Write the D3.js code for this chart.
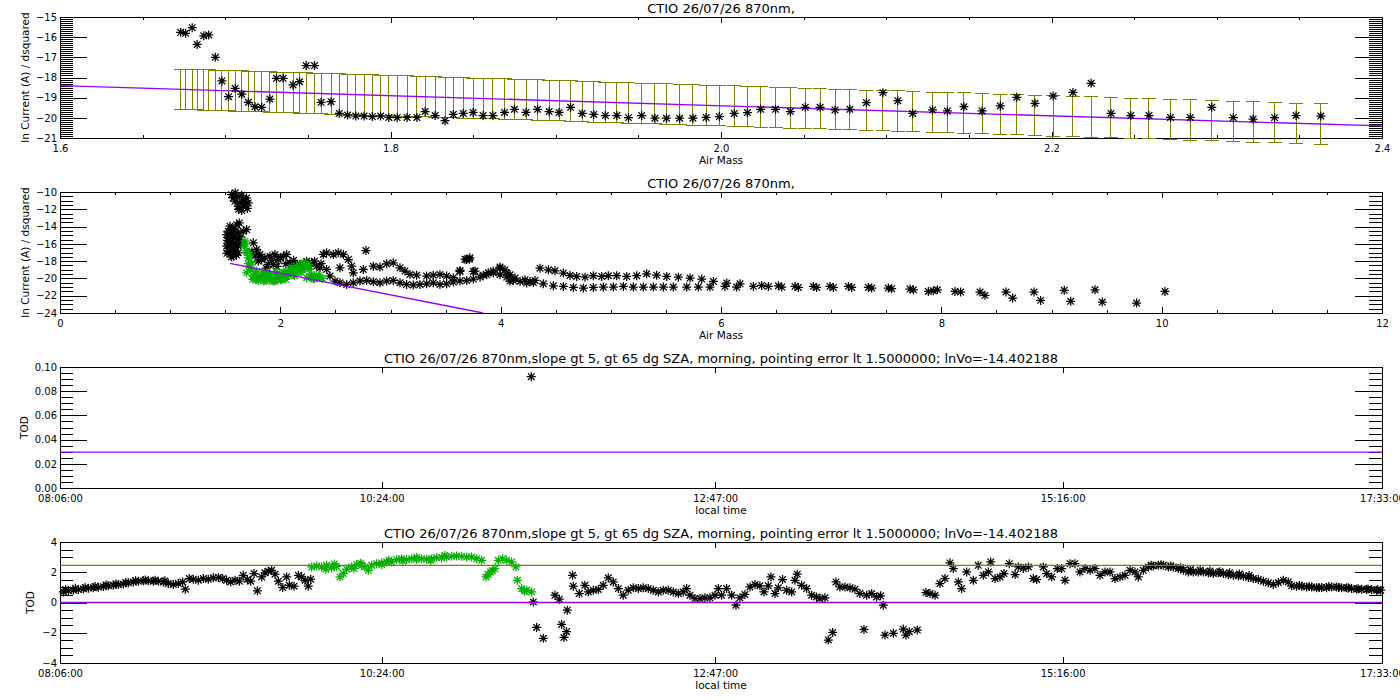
<!DOCTYPE html>
<html>
<head>
<meta charset="utf-8">
<script src="https://cdn.jsdelivr.net/npm/d3@7"></script>
<style>
body { margin: 0; background: #fff; }
svg text { font-family: "DejaVu Sans", sans-serif; fill: #000; }
.title { font-size: 13px; }
.axis text { font-size: 10px; }
.axtitle { font-size: 10.5px; }
</style>
</head>
<body>
<svg id="chart"></svg>
<script>
// ---- panel 1: ln current vs air mass (zoomed), with fit and error bars
let p1Title = "CTIO 26/07/26 870nm,"
let p1Airmass = [1.673,1.676,1.680,1.683,1.687,1.690,1.694,1.698,1.702,1.706,1.710,1.714,1.718,1.722,1.727,1.731,1.735,1.741,1.745,1.749,1.754,1.758,1.764,1.769,1.774,1.779,1.784,1.789,1.794,1.799,1.804,1.810,1.816,1.821,1.827,1.833,1.838,1.844,
    1.850,1.856,1.862,1.869,1.875,1.882,1.889,1.896,1.902,1.909,1.916,1.923,1.930,1.937,1.944,1.952,1.960,1.967,1.975,1.983,1.991,1.999,2.008,2.016,2.024,2.033,2.042,2.051,2.060,2.069,2.078,2.088,2.098,2.107,2.116,
    2.128,2.137,2.147,2.158,2.169,2.179,2.190,2.201,2.213,2.224,2.236,2.248,2.259,2.272,2.284,2.297,2.310,2.322,2.335,2.348,2.363]
let p1LnCurrent = [-15.76,-15.81,-15.53,-16.36,-15.93,-15.89,-17.00,-18.17,-18.95,-18.54,-18.83,-19.23,-19.45,-19.48,-19.07,-18.04,-18.04,-18.37,-18.21,-17.41,-17.41,-19.23,-19.20,-19.78,-19.86,-19.91,-19.91,-19.94,-19.91,-19.98,-19.99,-19.98,-19.98,-19.69,-19.89,-20.14,-19.83,-19.78,
    -19.73,-19.89,-19.89,-19.73,-19.58,-19.73,-19.58,-19.69,-19.73,-19.48,-19.78,-19.83,-19.89,-19.89,-19.99,-19.89,-20.02,-20.02,-20.02,-20.02,-19.98,-19.94,-19.78,-19.74,-19.58,-19.58,-19.69,-19.48,-19.48,-19.61,-19.58,-19.25,-18.75,-19.15,-19.78,
    -19.61,-19.66,-19.45,-19.66,-19.41,-18.98,-19.28,-18.92,-18.74,-18.29,-19.78,-19.89,-19.89,-19.98,-19.98,-19.48,-19.99,-20.06,-19.99,-19.89,-19.91]
let p1FitAirmass = [1.6, 2.4]
let p1FitLn = [-18.40, -20.40]
let p1ErrHalf = 1.0
let p1XTicks = [1.6, 1.8, 2.0, 2.2, 2.4]
let p1YTicks = [-21, -20, -19, -18, -17, -16, -15]

// ---- panel 2: ln current vs air mass, whole day
let p2Title = "CTIO 26/07/26 870nm,"
let p2BlackAirmass = [1.558,1.603,1.649,1.694,1.588,1.634,1.679,1.618,1.664,1.649,1.709,1.573,1.627,1.590,1.660,1.700,1.620,
    1.528,1.528,1.528,1.528,1.573,1.573,1.573,1.573,1.573,1.618,1.618,1.618,1.618,1.543,1.664,1.513,1.513,1.550,1.550,1.550,1.595,1.595,1.595,1.595,
    1.535,1.535,1.535,1.560,1.560,1.600,1.520,1.640,1.640,1.515,1.555,1.605,
    1.694,1.755,1.785,1.815,1.830,1.860,1.891,1.906,1.936,1.951,1.982,2.027,2.057,2.087,2.133,2.178,2.239,2.284,2.329,2.360,
    1.800,1.870,1.920,1.970,2.000,2.050,2.120,2.190,2.260,2.310,2.370,1.740,1.770,
    2.390,2.420,2.450,2.496,2.541,2.602,2.662,2.723,2.783,2.844,2.904,2.965,3.025,3.086,3.146,3.207,3.267,3.328,3.388,3.449,3.509,3.570,3.630,
    2.420,2.481,2.526,2.572,2.617,2.647,2.662,2.777,
    2.541,2.753,2.844,2.904,2.965,3.025,3.086,3.131,3.177,3.237,3.328,3.388,3.449,3.509,3.570,3.630,3.691,3.721,3.767,3.842,3.888,3.933,3.994,4.054,4.084,
    3.692,3.752,3.813,3.873,3.934,3.994,4.055,4.115,4.176,4.236,4.297,4.387,4.478,4.569,4.660,4.751,4.841,4.932,5.023,5.114,5.204,5.295,5.386,5.477,5.567,5.689,5.794,5.900,6.036,6.142,6.294,6.430,6.551,6.702,6.868,7.020,7.186,7.368,7.549,7.746,7.882,
    3.676,3.716,3.631,3.752,3.994,4.039,4.085,4.130,4.221,4.266,4.312,4.357,4.433,4.493,4.569,4.629,4.690,4.766,4.841,4.917,4.977,5.053,5.144,5.235,5.325,5.416,5.507,5.613,5.719,5.825,5.931,6.052,6.173,6.369,6.521,6.672,6.838,6.989,7.156,7.338,7.519,7.716,
    7.927,7.964,8.124,8.175,8.351,8.396,8.587,8.647,8.841,8.901,9.116,9.174,9.395,9.461,9.773,10.030]
let p2BlackLn = [-10.31,-10.50,-10.38,-10.69,-11.08,-11.27,-11.08,-11.65,-11.65,-12.15,-11.27,-10.69,-13.58,-10.10,-10.90,-11.90,-12.00,
    -14.54,-15.31,-16.08,-16.85,-14.35,-15.12,-15.88,-16.65,-17.42,-14.73,-15.50,-16.27,-17.04,-13.96,-14.54,-14.92,-16.27,-14.90,-15.70,-16.45,-14.50,-15.30,-16.10,-16.80,
    -15.00,-15.70,-16.50,-14.30,-17.00,-17.30,-15.60,-15.20,-16.00,-17.10,-17.50,-13.80,
    -14.35,-15.88,-16.65,-17.23,-17.81,-17.62,-18.38,-17.42,-18.38,-17.23,-17.81,-17.42,-17.23,-18.19,-18.38,-18.38,-18.00,-18.19,-18.58,-18.77,
    -18.00,-18.80,-17.90,-18.60,-17.60,-18.30,-17.90,-18.80,-18.60,-18.00,-18.30,-16.90,-17.40,
    -17.23,-18.96,-19.73,-20.31,-20.50,-20.69,-20.50,-20.31,-20.23,-20.38,-20.50,-20.31,-20.23,-20.50,-20.69,-20.77,-20.69,-20.62,-20.50,-20.69,-20.62,-20.42,-20.31,
    -17.04,-17.23,-17.04,-17.23,-17.81,-18.58,-19.35,-16.77,
    -18.77,-18.96,-18.58,-18.69,-18.31,-18.19,-18.77,-19.15,-19.54,-19.62,-19.73,-19.62,-19.54,-19.73,-19.92,-19.08,-17.81,-17.62,-19.15,-19.62,-19.35,-19.15,-18.69,-19.35,-20.31,
    -20.23,-20.08,-19.85,-19.58,-19.38,-19.58,-19.85,-20.23,-20.35,-20.54,-20.46,-20.62,-20.85,-20.92,-21.04,-21.12,-21.04,-21.00,-21.00,-20.92,-21.00,-21.00,-21.00,-21.00,-21.00,-21.00,-21.00,-21.00,-20.92,-21.00,-20.92,-20.92,-21.00,-21.04,-21.04,-21.04,-21.04,-21.12,-21.19,-21.31,-21.50,
    -17.77,-17.77,-19.19,-19.19,-18.81,-19.00,-19.58,-19.96,-20.15,-20.35,-20.23,-18.81,-19.00,-19.12,-19.38,-19.65,-19.77,-19.85,-19.69,-19.77,-19.69,-19.69,-19.77,-19.69,-19.46,-19.62,-19.77,-19.85,-19.96,-20.08,-20.35,-20.54,-20.62,-20.81,-20.85,-20.92,-20.92,-20.92,-20.92,-21.04,-21.12,-21.23,
    -21.42,-21.31,-21.50,-21.58,-21.58,-21.96,-21.58,-22.27,-21.58,-22.54,-21.38,-22.65,-21.31,-22.73,-22.85,-21.50]
let p2GreenAirmass = [1.679,1.670,1.694,1.709,1.724,1.694,1.739,1.755,1.785,1.815,1.876,1.936,1.997,2.057,2.118,2.178,2.224,2.239,2.299,2.360,
    2.103,2.148,2.208,2.254,1.845,1.906,1.966,2.027,1.785,1.860,1.936,2.012,2.284,2.329,2.072,
    1.680,1.700,1.710,1.730,1.720,1.750,1.800,1.850,1.900,1.950,2.000,2.050,1.770,1.830,1.890,1.950,2.010,2.070,2.130,
    1.880,1.960,2.040,2.100,2.160,2.270,2.310,2.350,2.380,2.120,2.170,2.200,2.230,2.260,2.190]
let p2GreenLn = [-15.69,-16.27,-16.85,-17.62,-18.77,-19.35,-18.19,-19.73,-19.15,-19.92,-19.85,-19.92,-19.85,-19.73,-19.54,-19.15,-18.77,-19.92,-20.00,-19.92,
    -18.77,-18.58,-18.19,-18.38,-19.35,-19.54,-19.46,-19.35,-20.12,-20.23,-20.31,-20.12,-19.54,-19.62,-19.15,
    -16.00,-17.00,-18.30,-19.00,-17.30,-20.10,-20.25,-20.30,-20.20,-20.30,-20.15,-20.10,-19.60,-19.70,-19.70,-19.65,-19.75,-19.60,-19.70,
    -19.30,-19.20,-19.30,-19.10,-19.20,-19.80,-20.05,-19.70,-20.00,-18.90,-18.80,-18.50,-18.30,-18.90,-19.30]
let p2FitAirmass = [1.543, 3.842]
let p2FitLn = [-18.26, -24.0]
let p2XTicks = [0, 2, 4, 6, 8, 10, 12]
let p2YTicks = [-24, -22, -20, -18, -16, -14, -12, -10]

// ---- panels 3 and 4: TOD vs local time
let p34Title = "CTIO 26/07/26 870nm,slope gt 5, gt 65 dg SZA, morning, pointing error lt 1.5000000; lnVo=-14.402188"
let p34TickHours = [8.1, 10.4, 12.7833, 15.2667, 17.55]
let p34TickLabels = ["08:06:00", "10:24:00", "12:47:00", "15:16:00", "17:33:00"]
let p3Hour = [11.469]
let p3Tod = [0.092]
let p3Line = 0.0296
let p3YTicks = [0, 0.02, 0.04, 0.06, 0.08, 0.10]

let p4BlackHour = [8.124,8.160,8.195,8.231,8.267,8.303,8.338,8.374,8.410,8.445,8.481,8.517,8.553,8.588,8.624,8.660,8.696,8.731,8.767,8.803,8.839,8.874,8.910,8.946,8.977,8.996,
    8.140,8.210,8.280,8.350,8.430,8.500,8.570,8.640,8.710,8.780,8.850,
    9.024,9.053,9.089,9.125,9.160,9.196,9.232,9.263,9.291,9.320,9.351,9.382,9.410,9.439,9.463,9.487,9.511,9.542,9.565,9.589,9.613,9.637,9.661,9.692,9.720,9.739,9.773,9.804,9.827,9.851,9.875,9.892,
    11.483,11.507,11.555,11.638,11.669,11.686,11.702,11.721,11.726,11.764,11.769,11.812,11.852,11.876,11.912,11.948,11.983,12.019,12.055,12.091,12.126,12.162,12.198,12.234,12.269,12.305,12.341,12.377,12.412,12.448,12.484,12.520,12.555,12.579,12.603,12.639,12.675,12.710,12.746,12.782,12.806,12.829,12.865,12.901,12.932,12.960,12.996,
    13.032,13.068,13.103,13.132,13.163,13.182,13.211,13.235,13.265,13.294,13.330,13.354,13.370,13.401,13.437,13.473,13.508,13.532,13.568,13.592,13.623,13.647,13.675,13.711,13.747,13.782,13.818,13.847,13.866,13.902,13.937,13.966,13.985,13.997,14.057,14.128,14.147,14.171,14.228,14.290,
    14.319,14.355,14.390,14.426,14.462,14.486,14.522,14.545,14.581,14.629,14.664,14.700,14.736,14.753,14.784,14.819,14.848,14.886,14.927,14.950,14.986,15.022,15.058,15.081,15.129,15.153,15.189,15.229,15.260,15.284,15.320,15.355,15.391,15.427,15.463,15.498,
    15.534,15.570,15.606,15.641,15.677,15.713,15.749,15.784,15.808,15.844,15.880,15.915,15.951,15.987,16.023,16.058,16.094,16.130,16.166,16.201,16.237,16.273,16.309,16.344,16.380,16.416,16.452,16.487,16.523,16.559,16.595,16.630,16.666,16.702,16.737,16.773,
    16.809,16.845,16.880,16.904,16.940,16.976,17.011,17.047,17.083,17.119,17.154,17.190,17.226,17.262,17.297,17.333,17.369,17.405,17.440,17.476,17.512,17.541,
    15.900,15.970,16.040,16.110,16.180,16.250,16.320,16.390,16.460,16.530,16.600,16.960,17.030,17.100,17.170,17.240,17.310,17.380,17.450,17.520]
let p4BlackTod = [0.70,0.77,0.81,0.86,0.90,0.95,0.97,1.01,1.05,1.10,1.14,1.19,1.23,1.30,1.36,1.41,1.43,1.43,1.41,1.41,1.36,1.25,1.19,1.25,1.36,0.88,
    0.86,0.94,1.00,1.06,1.16,1.23,1.33,1.44,1.49,1.47,1.43,
    1.58,1.54,1.47,1.58,1.54,1.63,1.65,1.58,1.47,1.36,1.47,1.41,1.80,1.52,1.41,1.91,0.77,1.69,1.96,2.07,2.13,1.87,1.41,0.99,1.69,1.14,1.08,1.80,1.69,1.47,1.08,1.54,
    0.04,-1.65,-2.37,0.48,0.22,-1.45,-2.31,-1.93,-0.51,1.80,1.08,0.59,1.14,0.70,0.81,0.86,1.14,1.63,1.36,0.92,0.48,0.81,0.97,0.92,0.97,0.92,0.81,0.70,0.81,0.81,0.70,0.59,0.70,0.92,0.48,0.26,0.26,0.31,0.31,0.48,0.92,0.48,0.92,0.48,-0.18,0.31,0.53,
    1.03,1.19,1.10,0.70,1.10,1.69,0.59,0.97,1.52,0.81,0.70,1.47,1.87,1.14,0.92,0.48,0.37,0.26,0.31,-2.48,-1.98,1.36,1.03,1.03,0.97,0.88,0.59,-1.78,0.48,0.59,0.37,0.44,-0.18,-2.15,-2.04,-1.76,-2.15,-1.93,-1.82,0.66,
    0.59,0.48,1.25,1.58,2.62,2.24,1.36,0.92,2.02,1.47,2.46,1.80,2.02,2.68,1.58,1.69,1.91,2.57,1.85,2.35,2.24,2.35,1.58,1.52,2.35,1.91,1.69,2.24,2.24,1.47,2.57,2.57,2.02,2.24,2.13,2.24,
    1.80,2.02,2.02,1.58,1.69,1.80,2.13,2.02,1.69,2.13,2.35,2.42,2.46,2.46,2.35,2.35,2.24,2.13,2.02,2.02,2.02,2.02,1.96,1.91,1.96,1.91,1.85,1.80,1.76,1.74,1.65,1.58,1.52,1.41,1.30,1.19,
    1.32,1.47,1.36,1.10,1.08,1.08,1.03,1.03,0.97,0.99,0.97,1.03,1.03,0.97,0.97,0.92,0.88,0.88,0.86,0.86,0.81,0.81,
    2.46,2.50,2.42,2.30,2.18,2.14,2.08,2.04,1.97,1.88,1.78,1.12,1.06,1.00,1.06,1.00,0.96,0.91,0.90,0.84]
let p4GreenHour = [9.899,9.935,9.970,10.006,10.042,10.078,10.101,10.125,10.149,10.185,10.221,10.256,10.280,10.304,10.328,10.363,10.399,10.435,10.471,10.506,10.542,10.578,10.614,10.649,10.685,10.721,10.757,10.792,10.828,10.864,10.900,10.935,10.971,11.007,
    11.042,11.078,11.114,11.145,11.178,11.209,11.233,11.264,11.293,11.328,11.359,11.369,11.400,11.436,11.471,
    10.000,10.060,10.200,10.250,10.400,10.450,10.550,10.650,10.750,10.850,11.160,11.190,11.420]
let p4GreenTod = [2.35,2.42,2.35,2.46,2.29,2.37,1.69,1.91,2.20,2.35,2.51,2.46,2.35,2.13,2.46,2.57,2.62,2.68,2.68,2.84,2.90,2.84,2.90,2.84,2.90,2.86,2.90,2.97,2.95,3.01,3.05,3.08,3.05,3.01,
    3.01,2.90,2.79,1.69,2.02,2.24,2.79,2.90,2.79,2.68,2.35,1.47,0.92,0.81,0.70,
    2.20,2.55,2.25,2.60,2.50,2.80,2.75,3.00,2.80,3.10,1.85,2.10,0.75]
let p4Threshold = 2.45
let p4Zero = 0
let p4YTicks = [-4, -2, 0, 2, 4]

// ---- layout
const svg = d3.select("#chart").attr("width", 1400).attr("height", 700)
const plotLeft = 60, plotRight = 1382
const purple = "#9a00f0", olive = "#808000", green = "#00b000"

function starPath() {
    return "M-4.5,0H4.5M0,-4.5V4.5M-3.3,-3.3L3.3,3.3M-3.3,3.3L3.3,-3.3"
}

function makePanel(o) {
    let X = d3.scaleLinear().domain(o.xDomain).range([plotLeft, plotRight])
    let Y = d3.scaleLinear().domain(o.yDomain).range([o.bottom, o.top])
    let g = svg.append("g")

    let axes = g.append("g").attr("class", "axis").attr("shape-rendering", "crispEdges")
    axes.append("g").attr("transform", "translate(" + plotLeft + ",0)")
        .call(d3.axisLeft(Y).tickValues(o.yMajor).tickSize(-27).tickPadding(3).tickFormat(o.yFormat))
    axes.append("g").attr("transform", "translate(" + plotLeft + ",0)")
        .call(d3.axisLeft(Y).tickValues(o.yMinor).tickSize(-13).tickFormat(""))
    axes.append("g").attr("transform", "translate(" + plotRight + ",0)")
        .call(d3.axisRight(Y).tickValues(o.yMajor).tickSize(-27).tickFormat(""))
    axes.append("g").attr("transform", "translate(" + plotRight + ",0)")
        .call(d3.axisRight(Y).tickValues(o.yMinor).tickSize(-13).tickFormat(""))
    axes.append("g").attr("transform", "translate(0," + o.bottom + ")")
        .call(d3.axisBottom(X).tickValues(o.xMajor).tickSize(-6).tickPadding(7).tickFormat(o.xFormat))
    axes.append("g").attr("transform", "translate(0," + o.top + ")")
        .call(d3.axisTop(X).tickValues(o.xMajor).tickSize(-6).tickFormat(""))
    if (o.xMinor) {
        axes.append("g").attr("transform", "translate(0," + o.bottom + ")")
            .call(d3.axisBottom(X).tickValues(o.xMinor).tickSize(-3).tickFormat(""))
        axes.append("g").attr("transform", "translate(0," + o.top + ")")
            .call(d3.axisTop(X).tickValues(o.xMinor).tickSize(-3).tickFormat(""))
    }
    axes.selectAll(".domain").remove()
    axes.append("rect")
        .attr("x", plotLeft).attr("y", o.top)
        .attr("width", plotRight - plotLeft).attr("height", o.bottom - o.top)
        .attr("fill", "none").attr("stroke", "#000")

    g.append("text").attr("class", "title")
        .attr("x", (plotLeft + plotRight) / 2).attr("y", o.top - 4)
        .attr("text-anchor", "middle").text(o.title)
    g.append("text").attr("class", "axtitle")
        .attr("x", (plotLeft + plotRight) / 2).attr("y", o.bottom + 26)
        .attr("text-anchor", "middle").text(o.xTitle)
    g.append("text").attr("class", "axtitle")
        .attr("transform", "translate(" + o.yTitleX + "," + (o.top + o.bottom) / 2 + ") rotate(-90)")
        .attr("dy", "0.35em").attr("text-anchor", "middle").text(o.yTitle)

    return { g: g, X: X, Y: Y }
}

function drawStars(p, xs, ys, color) {
    p.g.append("g").selectAll("path")
        .data(d3.zip(xs, ys))
        .join("path")
        .attr("d", starPath())
        .attr("transform", d => "translate(" + p.X(d[0]) + "," + p.Y(d[1]) + ")")
        .attr("fill", "none")
        .attr("stroke", color)
        .attr("stroke-width", 1.25)
}

function drawLine(p, xs, ys, color) {
    let line = d3.line().x(d => p.X(d[0])).y(d => p.Y(d[1]))
    p.g.append("path")
        .attr("d", line(d3.zip(xs, ys)))
        .attr("fill", "none")
        .attr("stroke", color)
        .attr("stroke-width", 1.3)
}

function hLine(p, value, color) {
    drawLine(p, p.X.domain(), [value, value], color)
}

function minorRange(lo, hi, step) {
    let n = Math.round((hi - lo) / step)
    return d3.range(n + 1).map(i => +(lo + i * step).toFixed(4))
}

// Panel 1
let p1 = makePanel({
    top: 17, bottom: 138, xDomain: [1.6, 2.4], yDomain: [-21, -15],
    xMajor: p1XTicks, xMinor: minorRange(1.6, 2.4, 0.05), xFormat: d3.format(".1f"),
    yMajor: p1YTicks, yMinor: minorRange(-21, -15, 0.1), yFormat: d3.format("d"),
    title: p1Title, xTitle: "Air Mass", yTitle: "ln Current (A)  /  dsquared", yTitleX: 25
})
let p1Fit = d3.scaleLinear().domain(p1FitAirmass).range(p1FitLn)
let bars = p1.g.append("g").attr("stroke", olive).attr("stroke-width", 1).attr("shape-rendering", "crispEdges")
p1Airmass.forEach(m => {
    let x = p1.X(m)
    let hi = p1.Y(p1Fit(m) + p1ErrHalf), lo = p1.Y(p1Fit(m) - p1ErrHalf)
    bars.append("line").attr("x1", x).attr("x2", x).attr("y1", hi).attr("y2", lo)
    bars.append("line").attr("x1", x - 7).attr("x2", x + 7).attr("y1", hi).attr("y2", hi)
    bars.append("line").attr("x1", x - 7).attr("x2", x + 7).attr("y1", lo).attr("y2", lo)
})
drawLine(p1, p1FitAirmass, p1FitLn, purple)
drawStars(p1, p1Airmass, p1LnCurrent, "#000")

// Panel 2
let p2 = makePanel({
    top: 192, bottom: 313, xDomain: [0, 12], yDomain: [-24, -10],
    xMajor: p2XTicks, xMinor: minorRange(0, 12, 0.5), xFormat: d3.format("d"),
    yMajor: p2YTicks, yMinor: minorRange(-24, -10, 0.5), yFormat: d3.format("d"),
    title: p2Title, xTitle: "Air Mass", yTitle: "ln Current (A)  /  dsquared", yTitleX: 25
})
drawStars(p2, p2BlackAirmass, p2BlackLn, "#000")
drawStars(p2, p2GreenAirmass, p2GreenLn, green)
drawLine(p2, p2FitAirmass, p2FitLn, purple)

// Panel 3
let p3 = makePanel({
    top: 367, bottom: 488, xDomain: [8.1, 17.55], yDomain: [0, 0.1],
    xMajor: p34TickHours, xFormat: (d, i) => p34TickLabels[i],
    yMajor: p3YTicks, yMinor: minorRange(0, 0.1, 0.005), yFormat: d3.format(".2f"),
    title: p34Title, xTitle: "local time", yTitle: "TOD", yTitleX: 24
})
drawStars(p3, p3Hour, p3Tod, "#000")
hLine(p3, p3Line, purple)

// Panel 4
let p4 = makePanel({
    top: 542, bottom: 663, xDomain: [8.1, 17.55], yDomain: [-4, 4],
    xMajor: p34TickHours, xFormat: (d, i) => p34TickLabels[i],
    yMajor: p4YTicks, yMinor: minorRange(-4, 4, 0.5), yFormat: d3.format("d"),
    title: p34Title, xTitle: "local time", yTitle: "TOD", yTitleX: 30
})
drawStars(p4, p4BlackHour, p4BlackTod, "#000")
drawStars(p4, p4GreenHour, p4GreenTod, green)
hLine(p4, p4Threshold, olive)
hLine(p4, p4Zero, purple)
</script>
</body>
</html>
